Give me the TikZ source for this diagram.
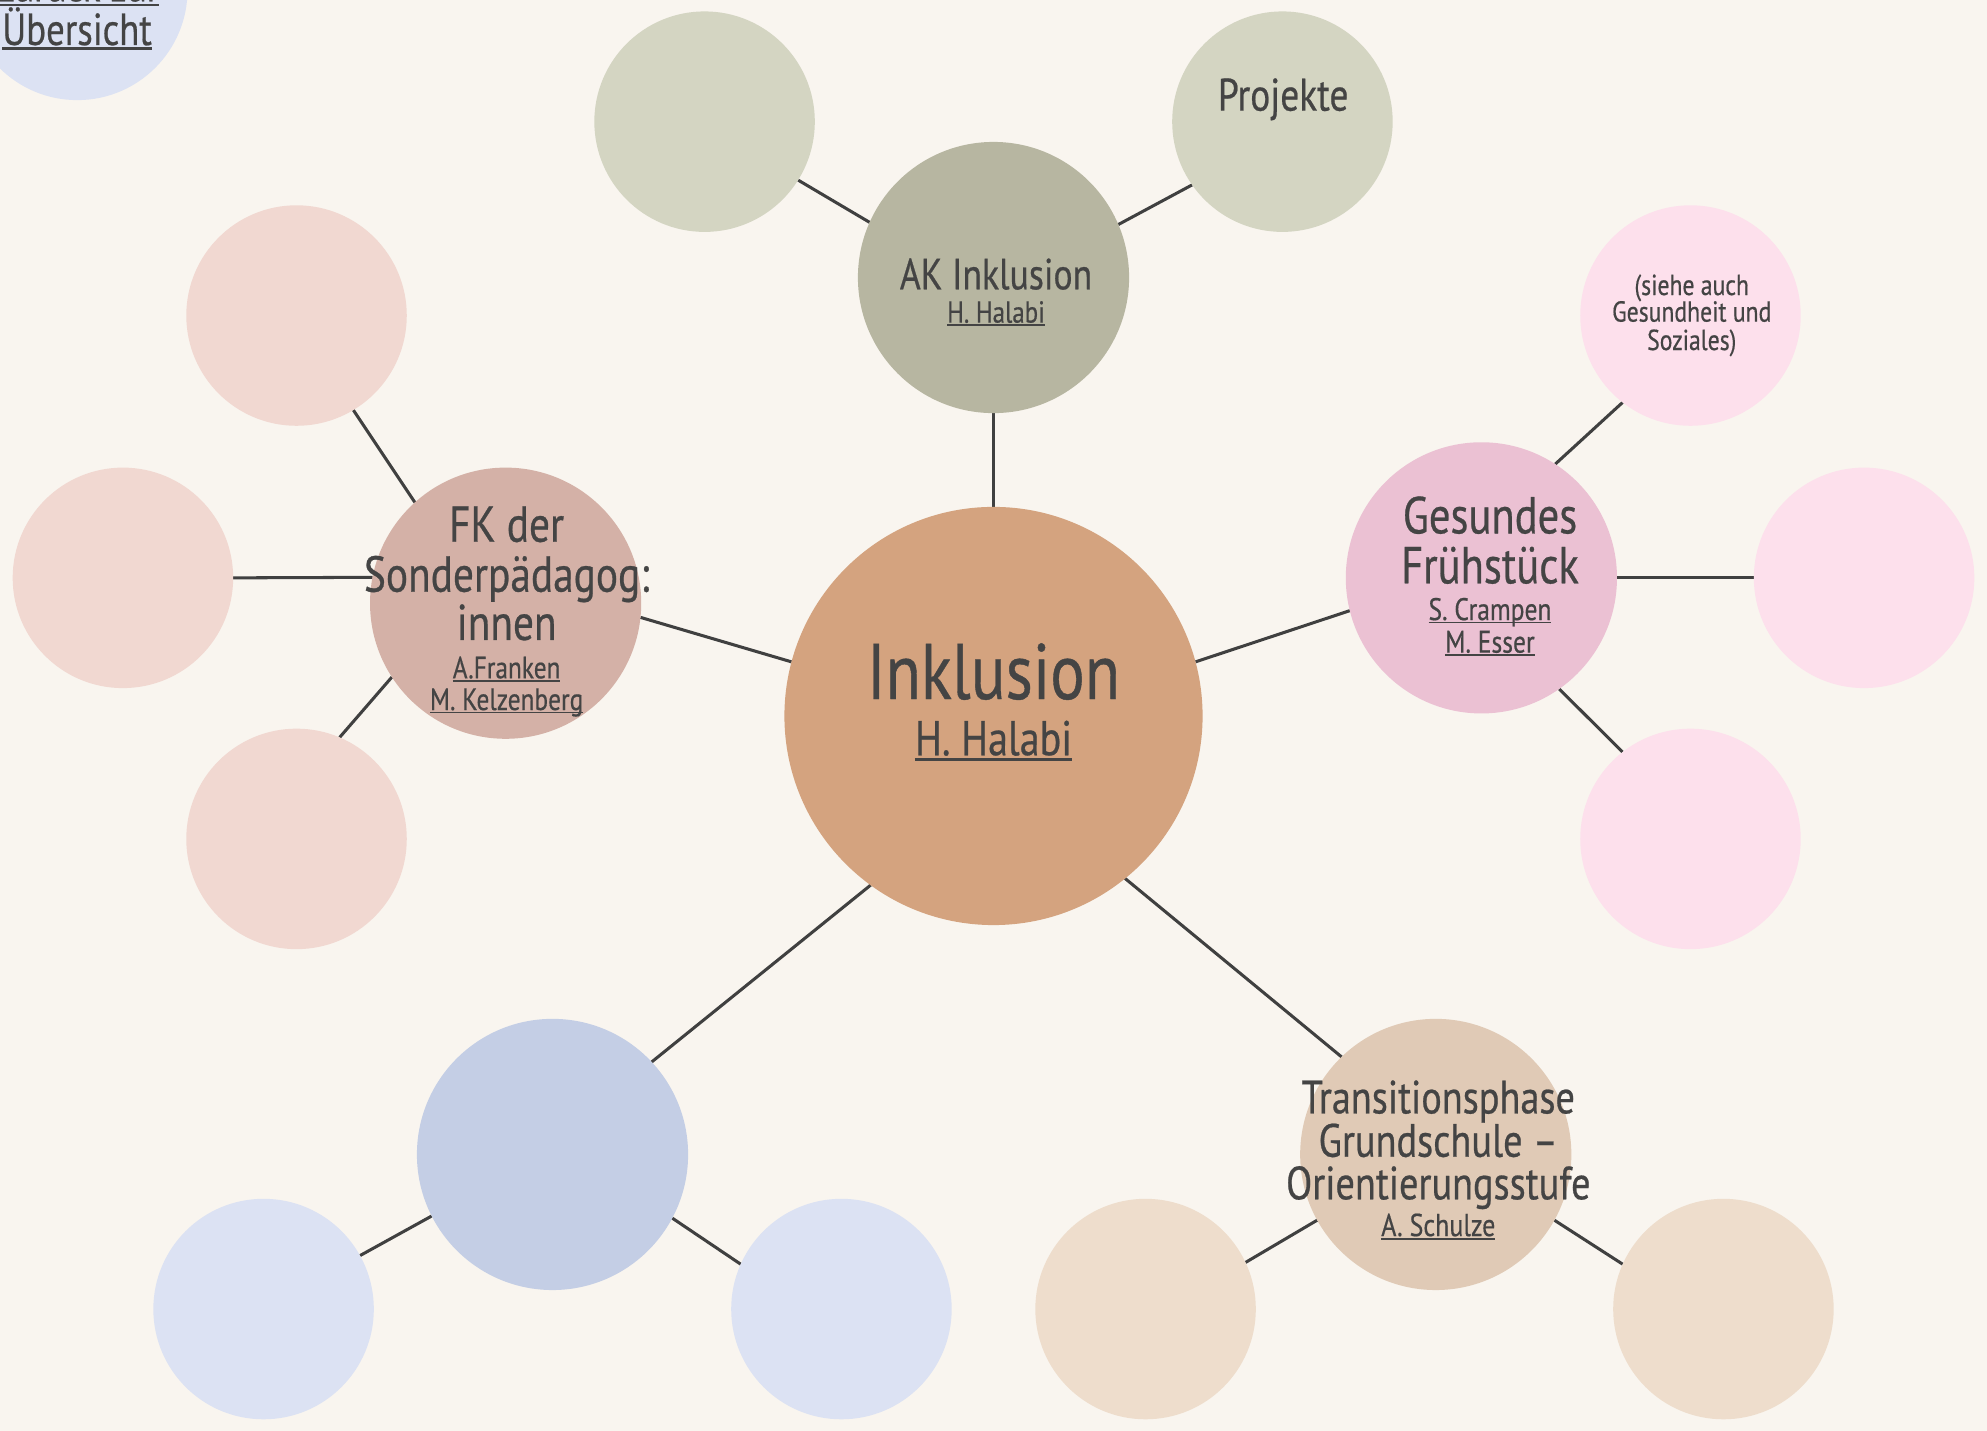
\documentclass[tikz,border=0pt]{standalone}
\usepackage{fontspec}
\setmainfont{PT Sans}[FakeStretch=0.82,FakeBold=0.5]
\pgfdeclarelayer{bg}
\pgfsetlayers{bg,main}
\definecolor{paper}{HTML}{F9F5EF}
\definecolor{ink}{HTML}{444444}
\definecolor{linec}{HTML}{404040}
\definecolor{cmain}{HTML}{D4A37F}
\definecolor{cak}{HTML}{B7B6A1}
\definecolor{cakk}{HTML}{D4D5C2}
\definecolor{cfk}{HTML}{D4B1A7}
\definecolor{cfkk}{HTML}{F1D8D1}
\definecolor{cges}{HTML}{EBC1D3}
\definecolor{cgesk}{HTML}{FDE0EC}
\definecolor{cblue}{HTML}{C4CEE5}
\definecolor{cbluek}{HTML}{DCE2F3}
\definecolor{ctra}{HTML}{E0CAB6}
\definecolor{ctrak}{HTML}{EEDDCC}
\newcommand\myul[1]{\setbox0\hbox{#1}\rlap{\copy0}\rule[-0.11em]{\wd0}{0.055em}}
\newcommand\fs[1]{\fontsize{#1}{#1}\selectfont}
\begin{document}
\begin{tikzpicture}[x=0.5pt,y=-0.5pt,
  bubble/.style={circle, inner sep=0pt, outer sep=0pt, draw=none},
  big/.style={bubble, minimum size=165pt},
  mid/.style={bubble, minimum size=107pt},
  small/.style={bubble, minimum size=87pt},
  link/.style={draw=linec, line width=1.2pt},
  txt/.style={text=ink, anchor=base, inner sep=0pt, outer sep=0pt},
]
\useasboundingbox (0,0) rectangle (1568,1129);
\clip (0,0) rectangle (1568,1129);

% circles
\node[big, fill=cmain] (central) at (784,565) {};
\node[mid, fill=cak] (ak) at (784,219) {};
\node[small, fill=cakk] (akl) at (556,96) {};
\node[small, fill=cakk] (akp) at (1012,96) {};
\node[mid, fill=cfk] (fk) at (399,476) {};
\node[small, fill=cfkk] (fkt) at (234,249) {};
\node[small, fill=cfkk] (fkl) at (97,456) {};
\node[small, fill=cfkk] (fkb) at (234,662) {};
\node[mid, fill=cges] (ges) at (1169,456) {};
\node[small, fill=cgesk] (gest) at (1334,249) {};
\node[small, fill=cgesk] (gesr) at (1471,456) {};
\node[small, fill=cgesk] (gesb) at (1334,662) {};
\node[mid, fill=cblue] (blue) at (436,911) {};
\node[small, fill=cbluek] (bluel) at (208,1033) {};
\node[small, fill=cbluek] (bluer) at (664,1033) {};
\node[mid, fill=ctra] (tra) at (1133,911) {};
\node[small, fill=ctrak] (tral) at (904,1033) {};
\node[small, fill=ctrak] (trar) at (1360,1033) {};
\node[small, fill=cbluek] (back) at (61,-8) {};

% background and connectors (behind the circles)
\begin{pgfonlayer}{bg}
\fill[paper] (0,0) rectangle (1568,1129);
\draw[link] (central.90) -- (ak.270);
\draw[link] (akl.328) -- (ak.156);
\draw[link] (akp.215) -- (ak.23);
\draw[link] (fk.354) -- (central.165);
\draw[link] (fkt.301) -- (fk.132);
\draw[link] (fkl.0) -- (fk.169);
\draw[link] (fkb.67) -- (fk.213);
\draw[link] (ges.194) -- (central.15);
\draw[link] (gest.232) -- (ges.57);
\draw[link] (gesr.180) -- (ges.0);
\draw[link] (gesb.128) -- (ges.305);
\draw[link] (blue.43) -- (central.234);
\draw[link] (bluel.29) -- (blue.207);
\draw[link] (bluer.156) -- (blue.332);
\draw[link] (tra.134) -- (central.309);
\draw[link] (tral.25) -- (tra.209);
\draw[link] (trar.156) -- (tra.331);
\end{pgfonlayer}

% texts
\node[txt, font=\fs{31.1}] (t1) at (784,551.6) {Inklusion};
\node[txt, font=\fs{19.3}] (t2) at (784,596) {\myul{H. Halabi}};

\node[txt, font=\fs{17.2}] (ak1) at (786,228.3) {AK Inklusion};
\node[txt, font=\fs{12}] (ak2) at (786,254.6) {\myul{H. Halabi}};
\node[txt, font=\fs{18}] (pr1) at (1012.6,87.3) {Projekte};

\node[txt, font=\fs{19.9}] (fk1) at (399.8,427.5) {FK der};
\node[txt, font=\fs{19.9}] (fk2) at (399.8,466.9) {Sonderpädagog:};
\node[txt, font=\fs{19.9}] (fk3) at (399.8,505) {innen};
\node[txt, font=\fs{12.2}] (fk4) at (399.8,535.3) {\myul{A.Franken}};
\node[txt, font=\fs{12.2}] (fk5) at (399.8,560.3) {\myul{M. Kelzenberg}};

\node[txt, font=\fs{20.5}] (g1) at (1175.8,420.9) {Gesundes};
\node[txt, font=\fs{20.5}] (g2) at (1175.8,460.3) {Frühstück};
\node[txt, font=\fs{12.3}] (g3) at (1175.8,489.3) {\myul{S. Crampen}};
\node[txt, font=\fs{12.3}] (g4) at (1175.8,515) {\myul{M. Esser}};

\node[txt, font=\fs{11.4}] (s1) at (1335,232.8) {(siehe auch};
\node[txt, font=\fs{11.4}] (s2) at (1335,253.8) {Gesundheit und};
\node[txt, font=\fs{11.4}] (s3) at (1335,276.2) {Soziales)};

\node[txt, font=\fs{18.4}] (tr1) at (1135,878.6) {Transitionsphase};
\node[txt, font=\fs{18.4}] (tr2) at (1135,912.8) {Grundschule –};
\node[txt, font=\fs{18.4}] (tr3) at (1135,946.4) {Orientierungsstufe};
\node[txt, font=\fs{12.5}] (tr4) at (1135,975.4) {\myul{A. Schulze}};

\node[txt, font=\fs{17.7}] (b1) at (60.8,1) {\myul{Zurück zur}};
\node[txt, font=\fs{17.7}] (b2) at (60.8,35.5) {\myul{Übersicht}};
\end{tikzpicture}
\end{document}
